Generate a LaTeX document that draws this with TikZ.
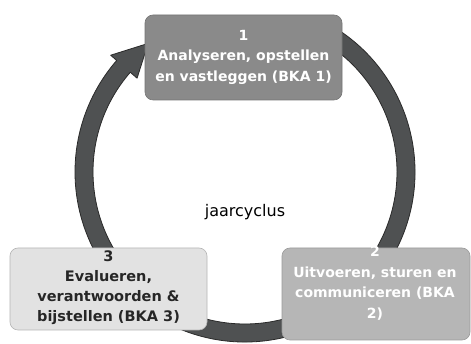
\documentclass[tikz,border=0pt]{standalone}
\usepackage{fontspec}
\setmainfont{DejaVu Sans}
\usetikzlibrary{calc}
\definecolor{ringfill}{HTML}{4F5152}
\definecolor{ringedge}{HTML}{2A2A2A}
\definecolor{boxone}{HTML}{8A8A8A}
\definecolor{boxtwo}{HTML}{B6B6B6}
\definecolor{boxthree}{HTML}{E2E2E2}
\begin{document}
\begin{tikzpicture}[x=1pt,y=1pt,
  ring/.style={fill=ringfill, draw=ringedge, line width=0.8pt, line join=round},
  stagebox/.style={rounded corners=8pt, line width=0.6pt, inner sep=0pt},
  boxA/.style={stagebox, fill=boxone, draw=boxone!85!black},
  boxB/.style={stagebox, fill=boxtwo, draw=boxtwo!85!black},
  boxC/.style={stagebox, fill=boxthree, draw=boxthree!80!black},
  stagetext/.style={align=center, inner sep=0pt, font=\bfseries\fontsize{14}{20.5}\selectfont},
  centertext/.style={inner sep=0pt, font=\fontsize{16}{18}\selectfont}
]
\useasboundingbox (0,0) rectangle (471,344);
\fill[white] (0,0) rectangle (471,344);
\coordinate (c) at (245,172);
% cycle arrow
\filldraw[ring] ($(c)+(62:170)$) arc[start angle=62, end angle=-221, radius=170]
  -- ($(c)+(-221:178)$) -- ($(c)+(-233:161)$) -- ($(c)+(-221:143)$)
  -- ($(c)+(-221:152)$) arc[start angle=-221, end angle=62, radius=152] -- cycle;
% boxes
\node[boxA, minimum width=197pt, minimum height=85pt] (b1) at (243.5,286.5) {};
\node[boxC, minimum width=197pt, minimum height=82pt] (b3) at (108.5,55) {};
\node[boxB, minimum width=188pt, minimum height=92pt] (b2) at (376,50) {};
% texts
\node[stagetext, text=white] (t1) at (243.5,287) {1\\Analyseren, opstellen\\en vastleggen (BKA 1)};
\node[stagetext, text=black!85, font=\bfseries\fontsize{14.5}{20}\selectfont] (t3) at (108.5,56) {3\\Evalueren,\\verantwoorden \&\\bijstellen (BKA 3)};
\node[stagetext, text=white] (t2) at (375,61) {2\\Uitvoeren, sturen en\\communiceren (BKA\\2)};
\node[centertext] (jc) at (245,132) {jaarcyclus};
\end{tikzpicture}
\end{document}
